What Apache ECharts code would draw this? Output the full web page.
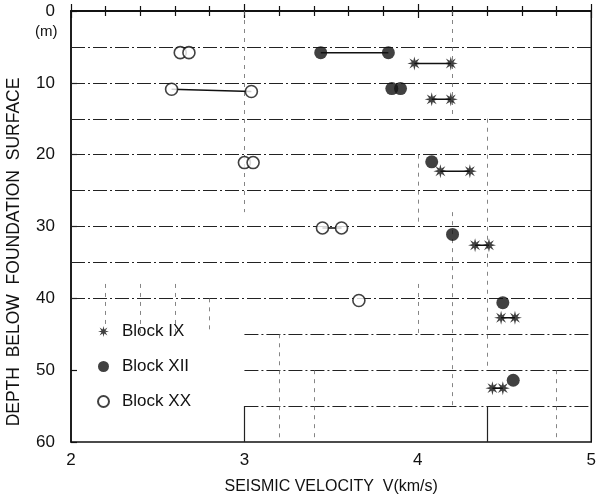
<!DOCTYPE html>
<html>
<head>
<meta charset="utf-8">
<script src="https://cdn.jsdelivr.net/npm/echarts@6/dist/echarts.min.js"></script>
<style>
  html, body { margin: 0; padding: 0; background: #fff; }
  #main { width: 599px; height: 504px; }
</style>
</head>
<body>
<div id="main"></div>
<script>
// seismic velocity (km/s) vs depth (m) per block
var blockIX = [[3.98, 7.3], [4.19, 7.3], [4.08, 12.3], [4.19, 12.3], [4.13, 22.3], [4.30, 22.3],
  [4.33, 32.6], [4.41, 32.6], [4.48, 42.7], [4.56, 42.7], [4.43, 52.5], [4.49, 52.5]];
var blockXII = [[3.44, 5.8], [3.83, 5.8], [3.85, 10.8], [3.90, 10.8], [4.08, 21.0], [4.20, 31.1],
  [4.49, 40.6], [4.55, 51.4]];
var blockXX = [[2.63, 5.8], [2.68, 5.8], [2.58, 10.9], [3.04, 11.2], [3.00, 21.1], [3.05, 21.1],
  [3.45, 30.2], [3.56, 30.2], [3.66, 40.3]];
// which points are joined by a line (index pairs)
var linksIX = [[0, 1], [2, 3], [4, 5], [6, 7], [8, 9], [10, 11]];
var linksXII = [[0, 1]];
var linksXX = [[2, 3], [6, 7]];

var xTicks = [2, 3, 4, 5];
var yTicks = [0, 10, 20, 30, 40, 50, 60];

var STAR = 'path://M20 10 L13.7 11.53 L17.07 17.07 L11.53 13.7 L10 20 L8.47 13.7 L2.93 17.07 L6.3 11.53 L0 10 L6.3 8.47 L2.93 2.93 L8.47 6.3 L10 0 L11.53 6.3 L17.07 2.93 L13.7 8.47 Z';
var FONT = 'Liberation Sans';
var INK = '#111';

function linkData(pts, links) {
  var out = [];
  links.forEach(function (l) {
    out.push(pts[l[0]], pts[l[1]], null);
  });
  return out;
}

// horizontal guide lines every 5 m (the lower ones stop at the legend)
var guides = [];
for (var d = 5; d <= 55; d += 5) {
  var x0 = d >= 45 ? 3 : 2;
  guides.push([{ coord: [x0, d] }, { coord: [5, d] }]);
}
var vGuides = [
  [{ coord: [3, 55] }, { coord: [3, 60] }],
  [{ coord: [4.4, 55] }, { coord: [4.4, 60] }]
];
// faint broken verticals of the original sheet
var vFaint = [
  [{ coord: [3, 0] }, { coord: [3, 28] }],
  [{ coord: [4.2, 0] }, { coord: [4.2, 15] }],
  [{ coord: [4.2, 28] }, { coord: [4.2, 55] }],
  [{ coord: [4.4, 15] }, { coord: [4.4, 50] }],
  [{ coord: [4, 20] }, { coord: [4, 30] }],
  [{ coord: [4, 38] }, { coord: [4, 45] }],
  [{ coord: [3.2, 45] }, { coord: [3.2, 60] }],
  [{ coord: [3.4, 50] }, { coord: [3.4, 60] }],
  [{ coord: [4.8, 50] }, { coord: [4.8, 60] }],
  [{ coord: [2.2, 38] }, { coord: [2.2, 45] }],
  [{ coord: [2.4, 38] }, { coord: [2.4, 45] }],
  [{ coord: [2.6, 38] }, { coord: [2.6, 45] }],
  [{ coord: [2.8, 40] }, { coord: [2.8, 45] }]
];

var chart = echarts.init(document.getElementById('main'));

chart.setOption({
  backgroundColor: '#fff',
  animation: false,
  textStyle: { fontFamily: FONT, color: INK },
  grid: { left: 71, right: 2, top: 11, bottom: 62, show: true, borderColor: INK, borderWidth: 1.5 },
  legend: {
    orient: 'vertical',
    left: 92,
    top: 318,
    itemGap: 18,
    itemWidth: 11,
    itemHeight: 11,
    textStyle: { fontFamily: FONT, fontSize: 17, color: INK, padding: [0, 0, 0, 8] },
    data: ['Block IX', 'Block XII', 'Block XX']
  },
  xAxis: [{
    type: 'value', min: 2, max: 5, interval: 1,
    name: 'SEISMIC VELOCITY  V(km/s)', nameLocation: 'middle', nameGap: 37,
    nameTextStyle: { fontFamily: FONT, fontSize: 16, color: INK },
    axisLine: { lineStyle: { color: INK, width: 1.5 } },
    axisTick: { inside: true, length: 7, lineStyle: { color: INK, width: 1.2 } },
    minorTick: { show: true, splitNumber: 5, length: 5, lineStyle: { color: INK, width: 1.2 } },
    axisLabel: { fontSize: 17, color: INK, margin: 10, customValues: xTicks },
    splitLine: { show: false }
  }, {
    type: 'value', min: 2, max: 5, interval: 1, position: 'top',
    axisLine: { lineStyle: { color: INK, width: 1.5 } },
    axisTick: { inside: true, length: 7, lineStyle: { color: INK, width: 1.2 } },
    minorTick: { show: true, splitNumber: 5, length: 5, lineStyle: { color: INK, width: 1.2 } },
    axisLabel: { show: false },
    splitLine: { show: false }
  }],
  yAxis: [{
    type: 'value', min: 0, max: 60, interval: 10, inverse: true,
    axisLine: { lineStyle: { color: INK, width: 1.5 } },
    axisTick: { inside: true, length: 6, lineStyle: { color: INK, width: 1.2 } },
    axisLabel: { fontSize: 17, color: INK, margin: 16, customValues: yTicks },
    splitLine: { show: false }
  }],
  graphic: [
    { type: 'text', left: 35, top: 24, style: { text: '(m)', font: '15px "Liberation Sans"', fill: INK } },
    { type: 'text', x: 5, y: 252, rotation: Math.PI / 2,
      style: { text: 'DEPTH  BELOW  FOUNDATION  SURFACE', font: '17.5px "Liberation Sans"', fill: INK,
        align: 'center', verticalAlign: 'top' } }
  ],
  series: [
    {
      name: 'guides', type: 'line', data: [], silent: true,
      markLine: {
        silent: true, symbol: 'none', label: { show: false },
        lineStyle: { color: '#222', width: 1, type: [14, 3, 2, 3] },
        data: guides
      }
    },
    {
      name: 'vguides', type: 'line', data: [], silent: true,
      markLine: {
        silent: true, symbol: 'none', label: { show: false },
        lineStyle: { color: '#222', width: 1.2, type: 'solid' },
        data: vGuides
      }
    },
    {
      name: 'vfaint', type: 'line', data: [], silent: true,
      markLine: {
        silent: true, symbol: 'none', label: { show: false },
        lineStyle: { color: '#666', width: 0.8, type: [4, 5] },
        data: vFaint
      }
    },
    { name: 'IX links', type: 'line', data: linkData(blockIX, linksIX), symbol: 'none',
      lineStyle: { color: INK, width: 1.5 }, silent: true },
    { name: 'XII links', type: 'line', data: linkData(blockXII, linksXII), symbol: 'none',
      lineStyle: { color: INK, width: 1.5 }, silent: true },
    { name: 'XX links', type: 'line', data: linkData(blockXX, linksXX), symbol: 'none',
      lineStyle: { color: INK, width: 1.5 }, silent: true },
    { name: 'Block IX', type: 'scatter', data: blockIX, symbol: STAR, symbolSize: 14,
      itemStyle: { color: INK }, z: 5 },
    { name: 'Block XII', type: 'scatter', data: blockXII, symbol: 'circle', symbolSize: 13,
      itemStyle: { color: INK }, z: 5 },
    { name: 'Block XX', type: 'scatter', data: blockXX, symbol: 'circle', symbolSize: 12,
      itemStyle: { color: '#fff', borderColor: INK, borderWidth: 1.6 }, z: 5 }
  ]
});
</script>
</body>
</html>
